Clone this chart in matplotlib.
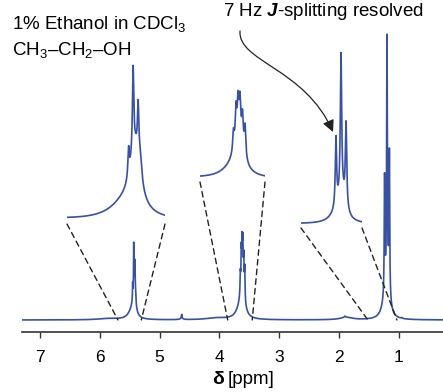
import matplotlib as mpl
mpl.use('Agg')
import matplotlib.pyplot as plt
from matplotlib.patches import ConnectionPatch, FancyArrowPatch
from matplotlib.path import Path
import numpy as np

plt.rcParams['font.family'] = ['Liberation Sans', 'DejaVu Sans']
plt.rcParams['mathtext.fontset'] = 'custom'
plt.rcParams['mathtext.rm'] = 'Liberation Sans'
plt.rcParams['mathtext.it'] = 'Liberation Sans:italic'
plt.rcParams['mathtext.bf'] = 'Liberation Sans:bold'
plt.rcParams['mathtext.bfit'] = 'Liberation Sans:italic:bold'

W, H = 443, 392
BLUE = '#3851a3'

# peak list: position [ppm], height [a.u.], half width [ppm]
oh_ppm = [5.450, 5.432, 5.412, 5.404, 5.424, 5.464]
oh_height = [14, 42, 25, 10, 30, 8]
oh_hwhm = [0.0032, 0.0032, 0.0032, 0.008, 0.024, 0.072]

ch2_ppm = [3.649, 3.633, 3.620, 3.608, 3.592, 3.576, 3.611, 3.646]
ch2_height = [20, 35, 35, 35, 30, 30, 30, 12]
ch2_hwhm = [0.0057, 0.0057, 0.0057, 0.0057, 0.0057, 0.0057, 0.0315, 0.076]

ch3_ppm = [1.237, 1.197, 1.157, 1.189, 1.237]
ch3_height = [116, 234, 139, 40, 10]
ch3_hwhm = [0.0064, 0.0064, 0.0064, 0.036, 0.064]

# small impurity / baseline features
minor_ppm = [5.85, 4.63, 4.63, 4.05, 1.88, 1.90, 0.95]
minor_height = [1.3, 4.0, 1.2, 1.8, 2.5, 1.2, 0.8]
minor_hwhm = [0.2, 0.006, 0.03, 0.2, 0.12, 0.01, 0.01]

tick_ppm = [7, 6, 5, 4, 3, 2, 1]

# expanded regions: ppm window and box on the page (left, top, right, bottom px)
zoom_ppm = [(5.695, 5.305), (3.86, 3.45), (1.515, 1.03)]
zoom_box = [(67, 60, 165, 224), (200, 80, 265, 182), (301, 40, 362, 228)]
zoom_ylim = [(-1.5, 80.5), (-3, 99), (-6.7, 306.6)]

pos = np.concatenate([oh_ppm, ch2_ppm, ch3_ppm, minor_ppm])
amp = np.concatenate([oh_height, ch2_height, ch3_height, minor_height])
wid = np.concatenate([oh_hwhm, ch2_hwhm, ch3_hwhm, minor_hwhm])


def spectrum(x):
    d = (x[:, None] - pos[None, :]) / wid[None, :]
    return (amp[None, :] / (1 + d ** 2)).sum(axis=1)


def fbox(l, t, r, b):
    return [l / W, 1 - b / H, (r - l) / W, (b - t) / H]


def fpt(x, y):
    return (x / W, 1 - y / H)


fig = plt.figure(figsize=(W / 100, H / 100), dpi=100)
ax = fig.add_axes(fbox(22, 0, 443, 332))

x = np.linspace(7.3, 0.26, 28000)
ax.plot(x, spectrum(x), color=BLUE, lw=1.2)
ax.set_xlim(7.3, 0.26)
ax.set_ylim(-12, 320)
ax.set_xticks(tick_ppm)
ax.set_xticklabels([str(t) for t in tick_ppm])
ax.set_yticks([])
for s in ['left', 'right', 'top']:
    ax.spines[s].set_visible(False)
ax.spines['bottom'].set_linewidth(1.2)
ax.spines['bottom'].set_color('#333333')
ax.tick_params(axis='x', direction='out', length=4, width=1, color='#333333',
               labelsize=12.5, pad=9)

for (x0, x1), box, yl in zip(zoom_ppm, zoom_box, zoom_ylim):
    ins = fig.add_axes(fbox(*box))
    xi = np.linspace(x0, x1, 3000)
    ins.plot(xi, spectrum(xi), color=BLUE, lw=1.2)
    ins.set_xlim(x0, x1)
    ins.set_ylim(*yl)
    ins.axis('off')
    for fx, px in [(0, x0), (1, x1)]:
        con = ConnectionPatch(xyA=(fx, 0), coordsA=ins.transAxes,
                              xyB=(px, 0), coordsB=ax.transData,
                              color='#222222', lw=1.0, linestyle=(0, (4, 3)))
        fig.add_artist(con)

# text
fig.text(*fpt(12, 29), '1% Ethanol in CDCl$_3$', fontsize=13.5, va='baseline')
fig.text(*fpt(12, 55), 'CH$_3$–CH$_2$–OH', fontsize=13.5, va='baseline')
fig.text(*fpt(223, 16), r'7 Hz $\mathbfit{J}$-splitting resolved', fontsize=13.5,
         va='baseline')
fig.text(*fpt(224, 384), 'δ', fontsize=14, fontweight='bold', ha='right', va='baseline')
fig.text(*fpt(228, 384), '[ppm]', fontsize=13.5, ha='left', va='baseline')

# curved arrow to the resolved triplet
verts = [fpt(240, 31), fpt(238, 62), fpt(305, 68), fpt(333, 132)]
arrow = FancyArrowPatch(path=Path(verts, [Path.MOVETO, Path.CURVE4, Path.CURVE4, Path.CURVE4]),
                        transform=fig.transFigure, arrowstyle='-|>,head_length=7,head_width=3.5',
                        color='#222222', lw=0.9)
fig.add_artist(arrow)

plt.savefig('out.png', dpi=100)
plt.close()
